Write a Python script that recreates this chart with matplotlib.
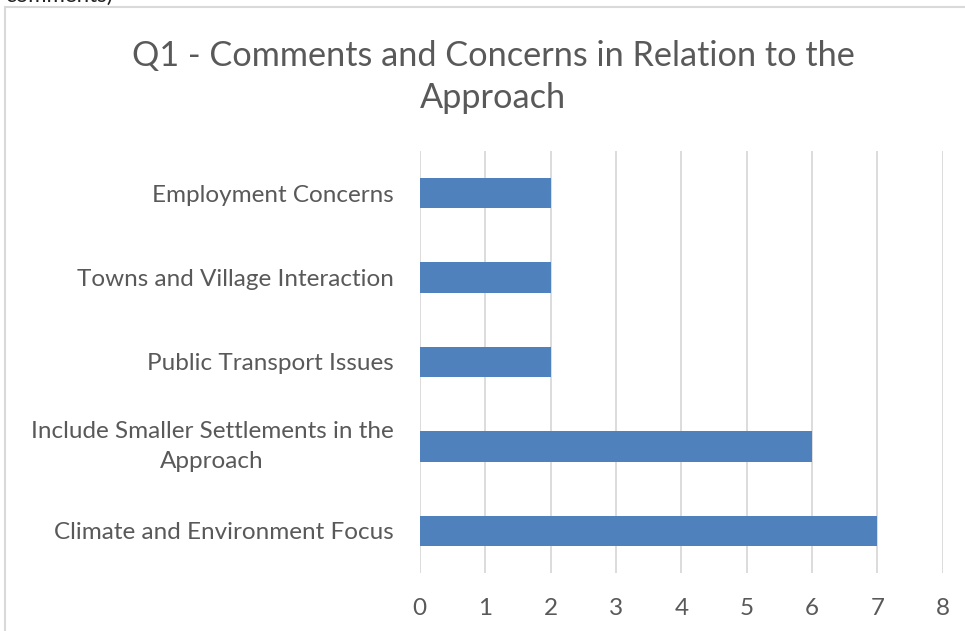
import matplotlib
matplotlib.use("Agg")
import matplotlib.pyplot as plt
from matplotlib.patches import Rectangle

# Q1 responses, bottom to top as drawn
categories = [
    "Climate and Environment Focus",
    "Include Smaller Settlements in the\nApproach",
    "Public Transport Issues",
    "Towns and Village Interaction",
    "Employment Concerns",
]
counts = [7, 6, 2, 2, 2]
xticks = [0, 1, 2, 3, 4, 5, 6, 7, 8]

plt.rcParams["font.family"] = ["Lato", "DejaVu Sans"]
text_col = "#595959"
grid_col = "#d9d9d9"

fig = plt.figure(figsize=(9.65, 6.31), dpi=100)
ax = fig.add_axes([0.435, 0.092, 0.542, 0.669])

ypos = range(len(categories))
ax.barh(ypos, counts, height=0.36, color="#4f81bd", zorder=3)

ax.set_xlim(0, 8)
ax.set_ylim(-0.5, len(categories) - 0.5)
ax.set_xticks(xticks)
ax.set_xticklabels([str(t) for t in xticks])
ax.set_yticks(list(ypos))
ax.set_yticklabels(categories, ha="right", multialignment="center",
                   linespacing=1.55)
# two-line label sits centred on its bar
for lbl in ax.get_yticklabels():
    if "\n" in lbl.get_text():
        lbl.set_va("center")

ax.grid(axis="x", color=grid_col, linewidth=1.3, zorder=0)
for s in ax.spines.values():
    s.set_visible(False)
ax.tick_params(axis="both", length=0, colors=text_col, labelsize=17.5)
ax.tick_params(axis="x", pad=18)
ax.tick_params(axis="y", pad=19)

fig.text(493 / 965, 1 - 77 / 631, "Q1 - Comments and Concerns in Relation to the\nApproach",
         ha="center", va="center", fontsize=24.7, color=text_col, linespacing=1.4)

# chart frame
fig.patches.append(Rectangle((5 / 965, -0.01), 1.0, 1 - 7 / 631 + 0.01,
                             transform=fig.transFigure, fill=False,
                             edgecolor=grid_col, linewidth=1.5))
fig.text(0.005, 1 - 2 / 631, "comments)", ha="left", va="baseline",
         fontsize=16, color="#222222")

fig.savefig("out.png", dpi=100)
